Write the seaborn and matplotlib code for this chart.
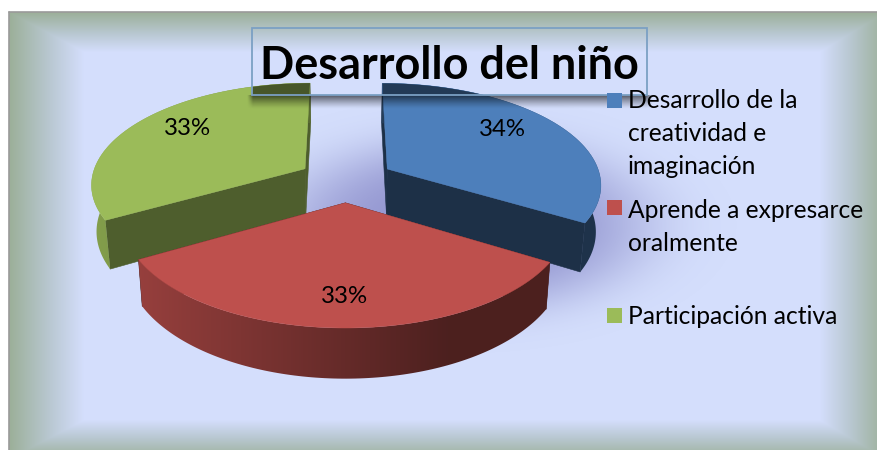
import numpy as np
import matplotlib
matplotlib.use("Agg")
import matplotlib.pyplot as plt
from matplotlib.patches import Polygon, Rectangle
import seaborn as sns

# ---- data ----
title = "Desarrollo del niño"
categories = ["Desarrollo de la\ncreatividad e\nimaginación",
              "Aprende a expresarce\noralmente",
              "Participación activa"]
values = [33.6, 33.2, 33.2]

# ---- style ----
palette = sns.color_palette(["#4D7FBB", "#BE504D", "#9BBB59"])
explode = [0.225, 0.22, 0.225]
thickness = [1.1, 1.0, 1.1]
cut_shade = [0.38, 0.38, 0.50]
draw_order = [2, 0, 1]
label_nudge = [(-15, -5), (2, 2), (12, -5)]
legend_y = [101, 211, 317]
marker_y = [100, 207, 315]

sns.set_theme(style="white")
plt.rcParams["font.family"] = ["Lato", "DejaVu Sans"]

W, H = 877, 450
fig = plt.figure(figsize=(W / 100, H / 100), dpi=100)
ax = fig.add_axes([0, 0, 1, 1])
ax.axis("off")


def full_image(arr, zorder, **kw):
    im = ax.imshow(arr, extent=(0, W, H, 0), aspect="auto", zorder=zorder, **kw)
    ax.set_xlim(0, W)
    ax.set_ylim(H, 0)
    return im


# ---- background: path gradient frame ----
xx, yy = np.meshgrid(np.arange(W) + .5, np.arange(H) + .5)
t = np.minimum.reduce([(xx - 9) / 75, (yy - 12) / 40, (W + 9 - xx) / 66, (H + 9 - yy) / 39])
t = np.clip(t, 0, 1)
stops = np.array([[155, 175, 152], [185, 200, 210], [212, 222, 252]]) / 255
bg = np.stack([np.interp(t, [0, .55, 1], stops[:, i]) for i in range(3)], axis=-1)
bg[(xx < 9) | (yy < 12)] = 1
full_image(bg, 0, interpolation="nearest")
ax.plot([9, 9], [12, H], color="#9a9a9a", lw=1.2, zorder=1)
ax.plot([9, W], [12, 12], color="#9a9a9a", lw=1.2, zorder=1)

# ---- soft shadow behind the pie ----
d = ((xx - 465) / 180) ** 2 + ((yy - 225) / 85) ** 2
sh = np.zeros((H, W, 4))
sh[..., :3] = np.array([120, 120, 190]) / 255
sh[..., 3] = 0.70 * np.exp(-d ** 2)
full_image(sh, 1)

# ---- pie geometry from matplotlib, then put into perspective ----
helper = fig.add_axes([0, 0, .1, .1])
wedges, _, autos = helper.pie(values, explode=explode, startangle=90, counterclock=False,
                              autopct="%.0f%%", pctdistance=0.76, radius=1)
helper.set_visible(False)

CX, CY, A, B, K, D = 346, 180, 214, 100.6, 0.14, 42


def project(X, Y, z=0.0):
    X, Y = np.asarray(X), np.asarray(Y)
    f = 1 / (1 + K * Y)
    return CX + A * X * f * (1 - 0.018 * z), CY - B * Y * f + D * z * f


tops = {}
for i in draw_order:
    w, base = wedges[i], np.array(palette[i])
    order = draw_order.index(i)
    th = np.radians(np.linspace(w.theta1, w.theta2, 121))
    ox = np.r_[w.center[0], w.center[0] + w.r * np.cos(th), w.center[0]]
    oy = np.r_[w.center[1], w.center[1] + w.r * np.sin(th), w.center[1]]
    tx, ty = project(ox, oy)
    bx, by = project(ox, oy, thickness[i])
    # the two cut faces
    for j in (0, len(ox) - 2):
        c = tuple(base * cut_shade[i])
        quad = [(tx[j], ty[j]), (tx[j + 1], ty[j + 1]), (bx[j + 1], by[j + 1]), (bx[j], by[j])]
        ax.add_patch(Polygon(quad, closed=True, fc=c, ec=c, lw=.4, zorder=3 + order))
    # the outer rim, a horizontal gradient clipped to its band
    band = np.r_[np.c_[tx[1:-1], ty[1:-1]], np.c_[bx[1:-1], by[1:-1]][::-1]]
    s = np.interp(xx[0], [92, 450], [.85, .40])
    grad = np.repeat((base[None, :] * s[:, None])[None, :, :], H, axis=0)
    im = full_image(grad, 3 + order, interpolation="bilinear")
    im.set_clip_path(Polygon(band, closed=True, transform=ax.transData))
    # the top face
    ax.add_patch(Polygon(np.c_[tx, ty], closed=True, fc=tuple(base), ec=tuple(base), lw=.3,
                         zorder=3.5 + order))
    tops[i] = np.c_[tx, ty]

# ---- title box: shadow, darkened pie under it, frame ----
BX, BY, BW, BH = 252, 28, 395, 67
ts = np.zeros((H, W, 4))
fade = np.clip((109 - yy) / 14, 0, 1) * (yy >= BY + BH)
fade = fade * np.clip((xx - 247) / 6, 0, 1) * np.clip((653 - xx) / 6, 0, 1)
ts[..., 3] = 0.62 * fade ** 1.3
full_image(ts, 8)
clip = Rectangle((BX, BY), BW, BH, transform=ax.transData)
for i in (0, 2):
    p = Polygon(tops[i], closed=True, fc=tuple(np.array(palette[i]) * .46), ec="none", zorder=8.5)
    ax.add_patch(p)
    p.set_clip_path(clip)
ax.add_patch(Rectangle((BX, BY), BW, BH, fc="none", ec="#7BA0C4", lw=1.3, zorder=9))
ax.text(BX + BW / 2, 79, title, ha="center", va="baseline", fontsize=32.4, fontweight="bold",
        color="black", zorder=10)

# ---- percent labels ----
for i, a in enumerate(autos):
    px, py = a.get_position()
    lx, ly = project(px, py)
    ax.text(lx + label_nudge[i][0], ly + label_nudge[i][1], a.get_text(), ha="center", va="center",
            fontsize=17.3, color="black", zorder=10)

# ---- legend ----
for i, lab in enumerate(categories):
    ax.add_patch(Rectangle((607, marker_y[i] - 7.5), 15, 15, fc=palette[i], ec="none", zorder=11))
    ax.text(628, legend_y[i] - 12, lab, ha="left", va="top", fontsize=17.7, linespacing=1.53,
            color="black", zorder=11)

fig.savefig("out.png", dpi=100)
